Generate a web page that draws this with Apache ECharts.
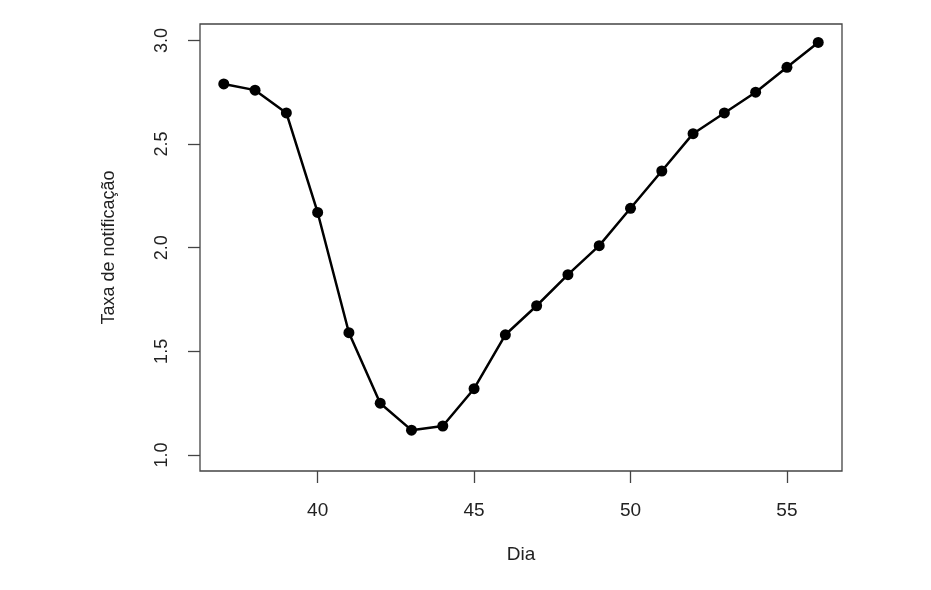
<!DOCTYPE html>
<html>
<head>
<meta charset="utf-8">
<script src="https://cdn.jsdelivr.net/npm/echarts@6/dist/echarts.min.js"></script>
<style>
html,body{margin:0;padding:0;background:#fff;}
#chart{width:931px;height:590px;}
</style>
</head>
<body>
<div id="chart"></div>
<script>
const dias = [37,38,39,40,41,42,43,44,45,46,47,48,49,50,51,52,53,54,55,56];
const taxa = [2.79,2.76,2.65,2.17,1.59,1.25,1.12,1.14,1.32,1.58,1.72,1.87,2.01,2.19,2.37,2.55,2.65,2.75,2.87,2.99];
const xTicks = [40,45,50,55];
const yTicks = [1.0,1.5,2.0,2.5,3.0];

const chart = echarts.init(document.getElementById('chart'));
const font = 'Liberation Sans, Arial, sans-serif';
chart.setOption({
  animation: false,
  backgroundColor: '#fff',
  grid: {left: 200, top: 24, right: 89, bottom: 119, show: true, borderColor: '#444', borderWidth: 1.3, backgroundColor: 'transparent'},
  xAxis: {
    type: 'value', min: 36.24, max: 56.76,
    name: 'Dia', nameLocation: 'middle', nameGap: 74,
    nameTextStyle: {fontFamily: font, fontSize: 19, color: '#222'},
    axisLine: {show: false},
    splitLine: {show: false},
    axisTick: {show: true, length: 12, customValues: xTicks, lineStyle: {color: '#444', width: 1.3}},
    axisLabel: {customValues: xTicks, margin: 30, fontFamily: font, fontSize: 19, color: '#222'}
  },
  yAxis: {
    type: 'value', min: 0.923, max: 3.079,
    name: 'Taxa de notificação', nameLocation: 'middle', nameGap: 82,
    nameTextStyle: {fontFamily: font, fontSize: 18, color: '#222'},
    axisLine: {show: false},
    splitLine: {show: false},
    axisTick: {show: true, length: 12, customValues: yTicks, lineStyle: {color: '#444', width: 1.3}},
    axisLabel: {customValues: yTicks, rotate: 90, margin: 29, fontFamily: font, fontSize: 18, color: '#222',
      formatter: v => Number(v).toFixed(1)}
  },
  series: [{
    type: 'line',
    data: dias.map((d, i) => [d, taxa[i]]),
    symbol: 'circle', symbolSize: 11,
    lineStyle: {color: '#000', width: 2.5},
    itemStyle: {color: '#000'}
  }]
});
</script>
</body>
</html>
